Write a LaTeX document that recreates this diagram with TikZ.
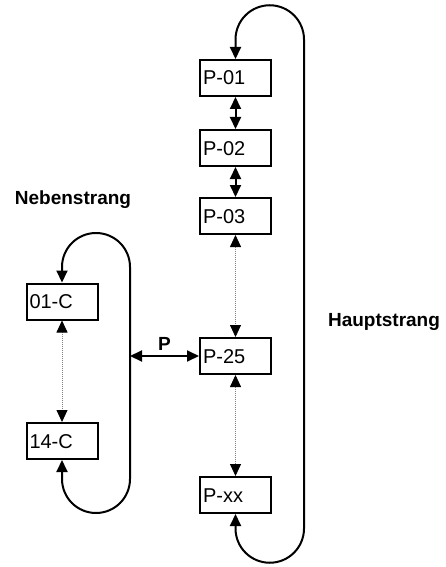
\documentclass[tikz,border=0pt]{standalone}
\usepackage{fontspec}
\setmainfont{Liberation Sans}
\usetikzlibrary{arrows.meta}
\begin{document}
\begin{tikzpicture}[x=1pt,y=-1pt,
  station/.style={draw, line width=2pt, rectangle, minimum height=36pt,
    text width=65pt, align=left, inner xsep=3pt, inner ysep=0pt,
    text height=14pt, text depth=0pt,
    font=\fontsize{20}{23}\selectfont},
  title/.style={font=\fontsize{19}{22}\selectfont\bfseries, inner sep=0pt},
  tip/.style={Triangle[length=12pt,width=11pt]},
  link/.style={line width=2pt, {Triangle[length=12pt,width=11pt]}-{Triangle[length=12pt,width=11pt]}},
  gap/.style={line width=0.8pt, gray, dash pattern=on 1pt off 1pt,
    {Triangle[length=12pt,width=11pt,black]}-{Triangle[length=12pt,width=11pt,black]}},
  track/.style={line width=2pt, {Triangle[length=12pt,width=11pt]}-{Triangle[length=12pt,width=11pt]}}
]
\useasboundingbox (0,0) rectangle (446,567);

% main line stations
\node[station] (p01) at (235.5,78)  {P-01};
\node[station] (p02) at (235.5,148) {P-02};
\node[station] (p03) at (235.5,216) {P-03};
\node[station] (p25) at (235.5,356) {P-25};
\node[station] (pxx) at (235.5,495) {P-xx};

% branch line stations
\node[station] (c01) at (62,301.5) {01-C};
\node[station] (c14) at (62,441)   {14-C};

% labels
\node[title] (neben) at (73,200)  {Nebenstrang};
\node[title] (haupt) at (384,322) {Hauptstrang};

% links within the main line
\draw[link] (p01) -- (p02);
\draw[link] (p02) -- (p03);
\draw[gap]  (p03) -- (p25);
\draw[gap]  (p25) -- (pxx);

% link within the branch line
\draw[gap] (c01) -- (c14);

% main loop
\draw[track]
  (pxx.south) -- (235.5,528.5) arc[start angle=180, end angle=0, radius=34.25]
  -- (304,39.5) arc[start angle=0, end angle=-180, radius=34.25]
  -- (p01.north);

% branch loop
\draw[track]
  (c14.south) -- (62,479) arc[start angle=180, end angle=0, radius=34]
  -- (130,267) arc[start angle=0, end angle=-180, radius=34]
  -- (c01.north);

% junction between the branch loop and P-25
\coordinate (jn) at (130,356);
\draw[link] (jn) -- (p25.west) node[midway, above=5pt, title] (plabel) {P};
\end{tikzpicture}
\end{document}
